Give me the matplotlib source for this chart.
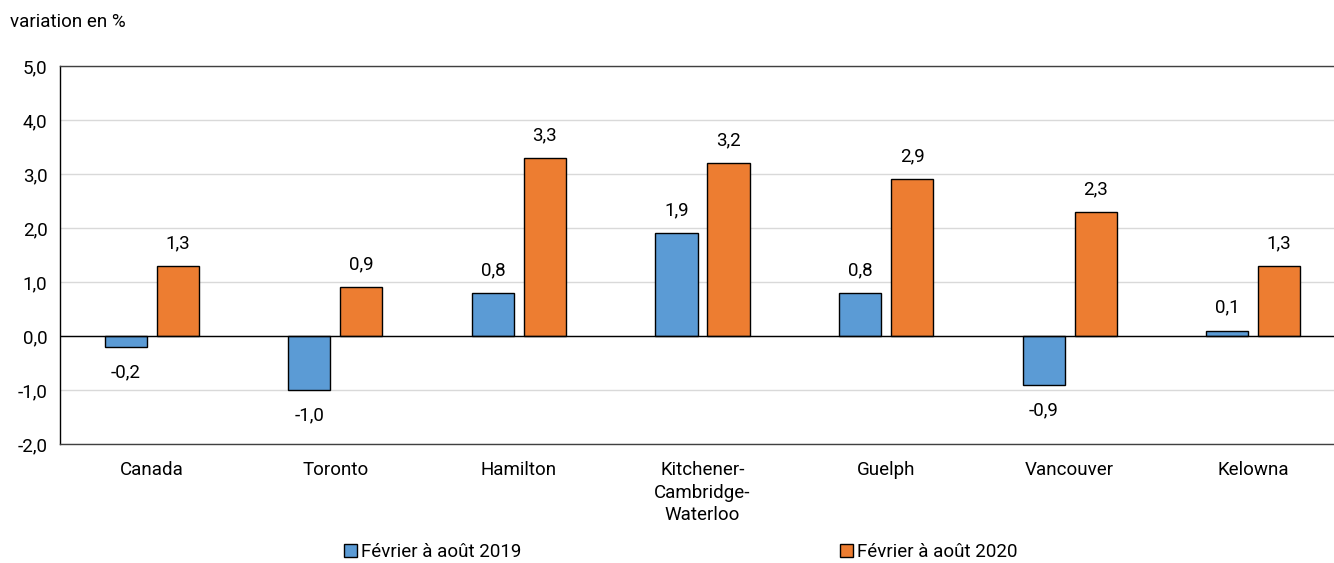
import matplotlib
matplotlib.use("Agg")
import matplotlib.pyplot as plt
from matplotlib.patches import Patch

plt.rcParams['font.family'] = ['Roboto', 'DejaVu Sans']

cities = ["Canada", "Toronto", "Hamilton", "Kitchener-\nCambridge-\nWaterloo",
          "Guelph", "Vancouver", "Kelowna"]
values_2019 = [-0.2, -1.0, 0.8, 1.9, 0.8, -0.9, 0.1]
values_2020 = [1.3, 0.9, 3.3, 3.2, 2.9, 2.3, 1.3]
series_labels = ["Février à août 2019", "Février à août 2020"]
y_ticks = [-2.0, -1.0, 0.0, 1.0, 2.0, 3.0, 4.0, 5.0]

blue = "#5B9BD5"
orange = "#ED7D31"
fs = 13.5


def fmt(v):
    return ("%.1f" % v).replace(".", ",")


fig = plt.figure(figsize=(13.34, 5.63), dpi=100)
ax = fig.add_axes([60 / 1334, 119 / 563, 1274 / 1334, 378 / 563])

x = list(range(len(cities)))
w = 0.229
off = 0.1416
bars1 = ax.bar([i - off for i in x], values_2019, w, color=blue,
               edgecolor="black", linewidth=1, zorder=3)
bars2 = ax.bar([i + off for i in x], values_2020, w, color=orange,
               edgecolor="black", linewidth=1, zorder=3)

for bars, vals in ((bars1, values_2019), (bars2, values_2020)):
    for b, v in zip(bars, vals):
        cx = b.get_x() + b.get_width() / 2
        if v >= 0:
            ax.annotate(fmt(v), (cx, v), xytext=(0, 16.5), textcoords="offset points",
                        ha="center", va="center", fontsize=fs)
        else:
            ax.annotate(fmt(v), (cx, v), xytext=(0, -18.5), textcoords="offset points",
                        ha="center", va="center", fontsize=fs)

ax.set_xlim(-0.5, 6.44)
ax.set_ylim(-2.0, 5.0)
ax.set_yticks(y_ticks)
ax.set_yticklabels([fmt(v) for v in y_ticks], fontsize=fs)
ax.set_xticks(x)
ax.set_xticklabels(cities, fontsize=fs, linespacing=1.35, va="top")
ax.tick_params(axis="both", length=0)
ax.tick_params(axis="y", pad=9)
ax.tick_params(axis="x", pad=12)

ax.yaxis.grid(True, color="#d9d9d9", linewidth=1, zorder=0)
ax.set_axisbelow(True)
ax.axhline(0, color="black", linewidth=1, zorder=4)

ax.spines["right"].set_visible(False)
ax.spines["top"].set_color("#404040")
ax.spines["left"].set_color("black")
ax.spines["bottom"].set_color("#404040")
for s in ("top", "left", "bottom"):
    ax.spines[s].set_linewidth(1)

fig.text(10 / 1334, 1 - 22 / 563, "variation en %", fontsize=fs,
         ha="left", va="center")

handles = [Patch(facecolor=blue, edgecolor="black", linewidth=1),
           Patch(facecolor=orange, edgecolor="black", linewidth=1)]
fig.legend(handles, series_labels, loc="center", ncol=2,
           bbox_to_anchor=(681 / 1334, 11 / 563), frameon=False,
           fontsize=fs, handlelength=0.7, handleheight=0.7,
           handletextpad=0.2, columnspacing=17.0, borderpad=0)

fig.savefig("out.png", dpi=100)
